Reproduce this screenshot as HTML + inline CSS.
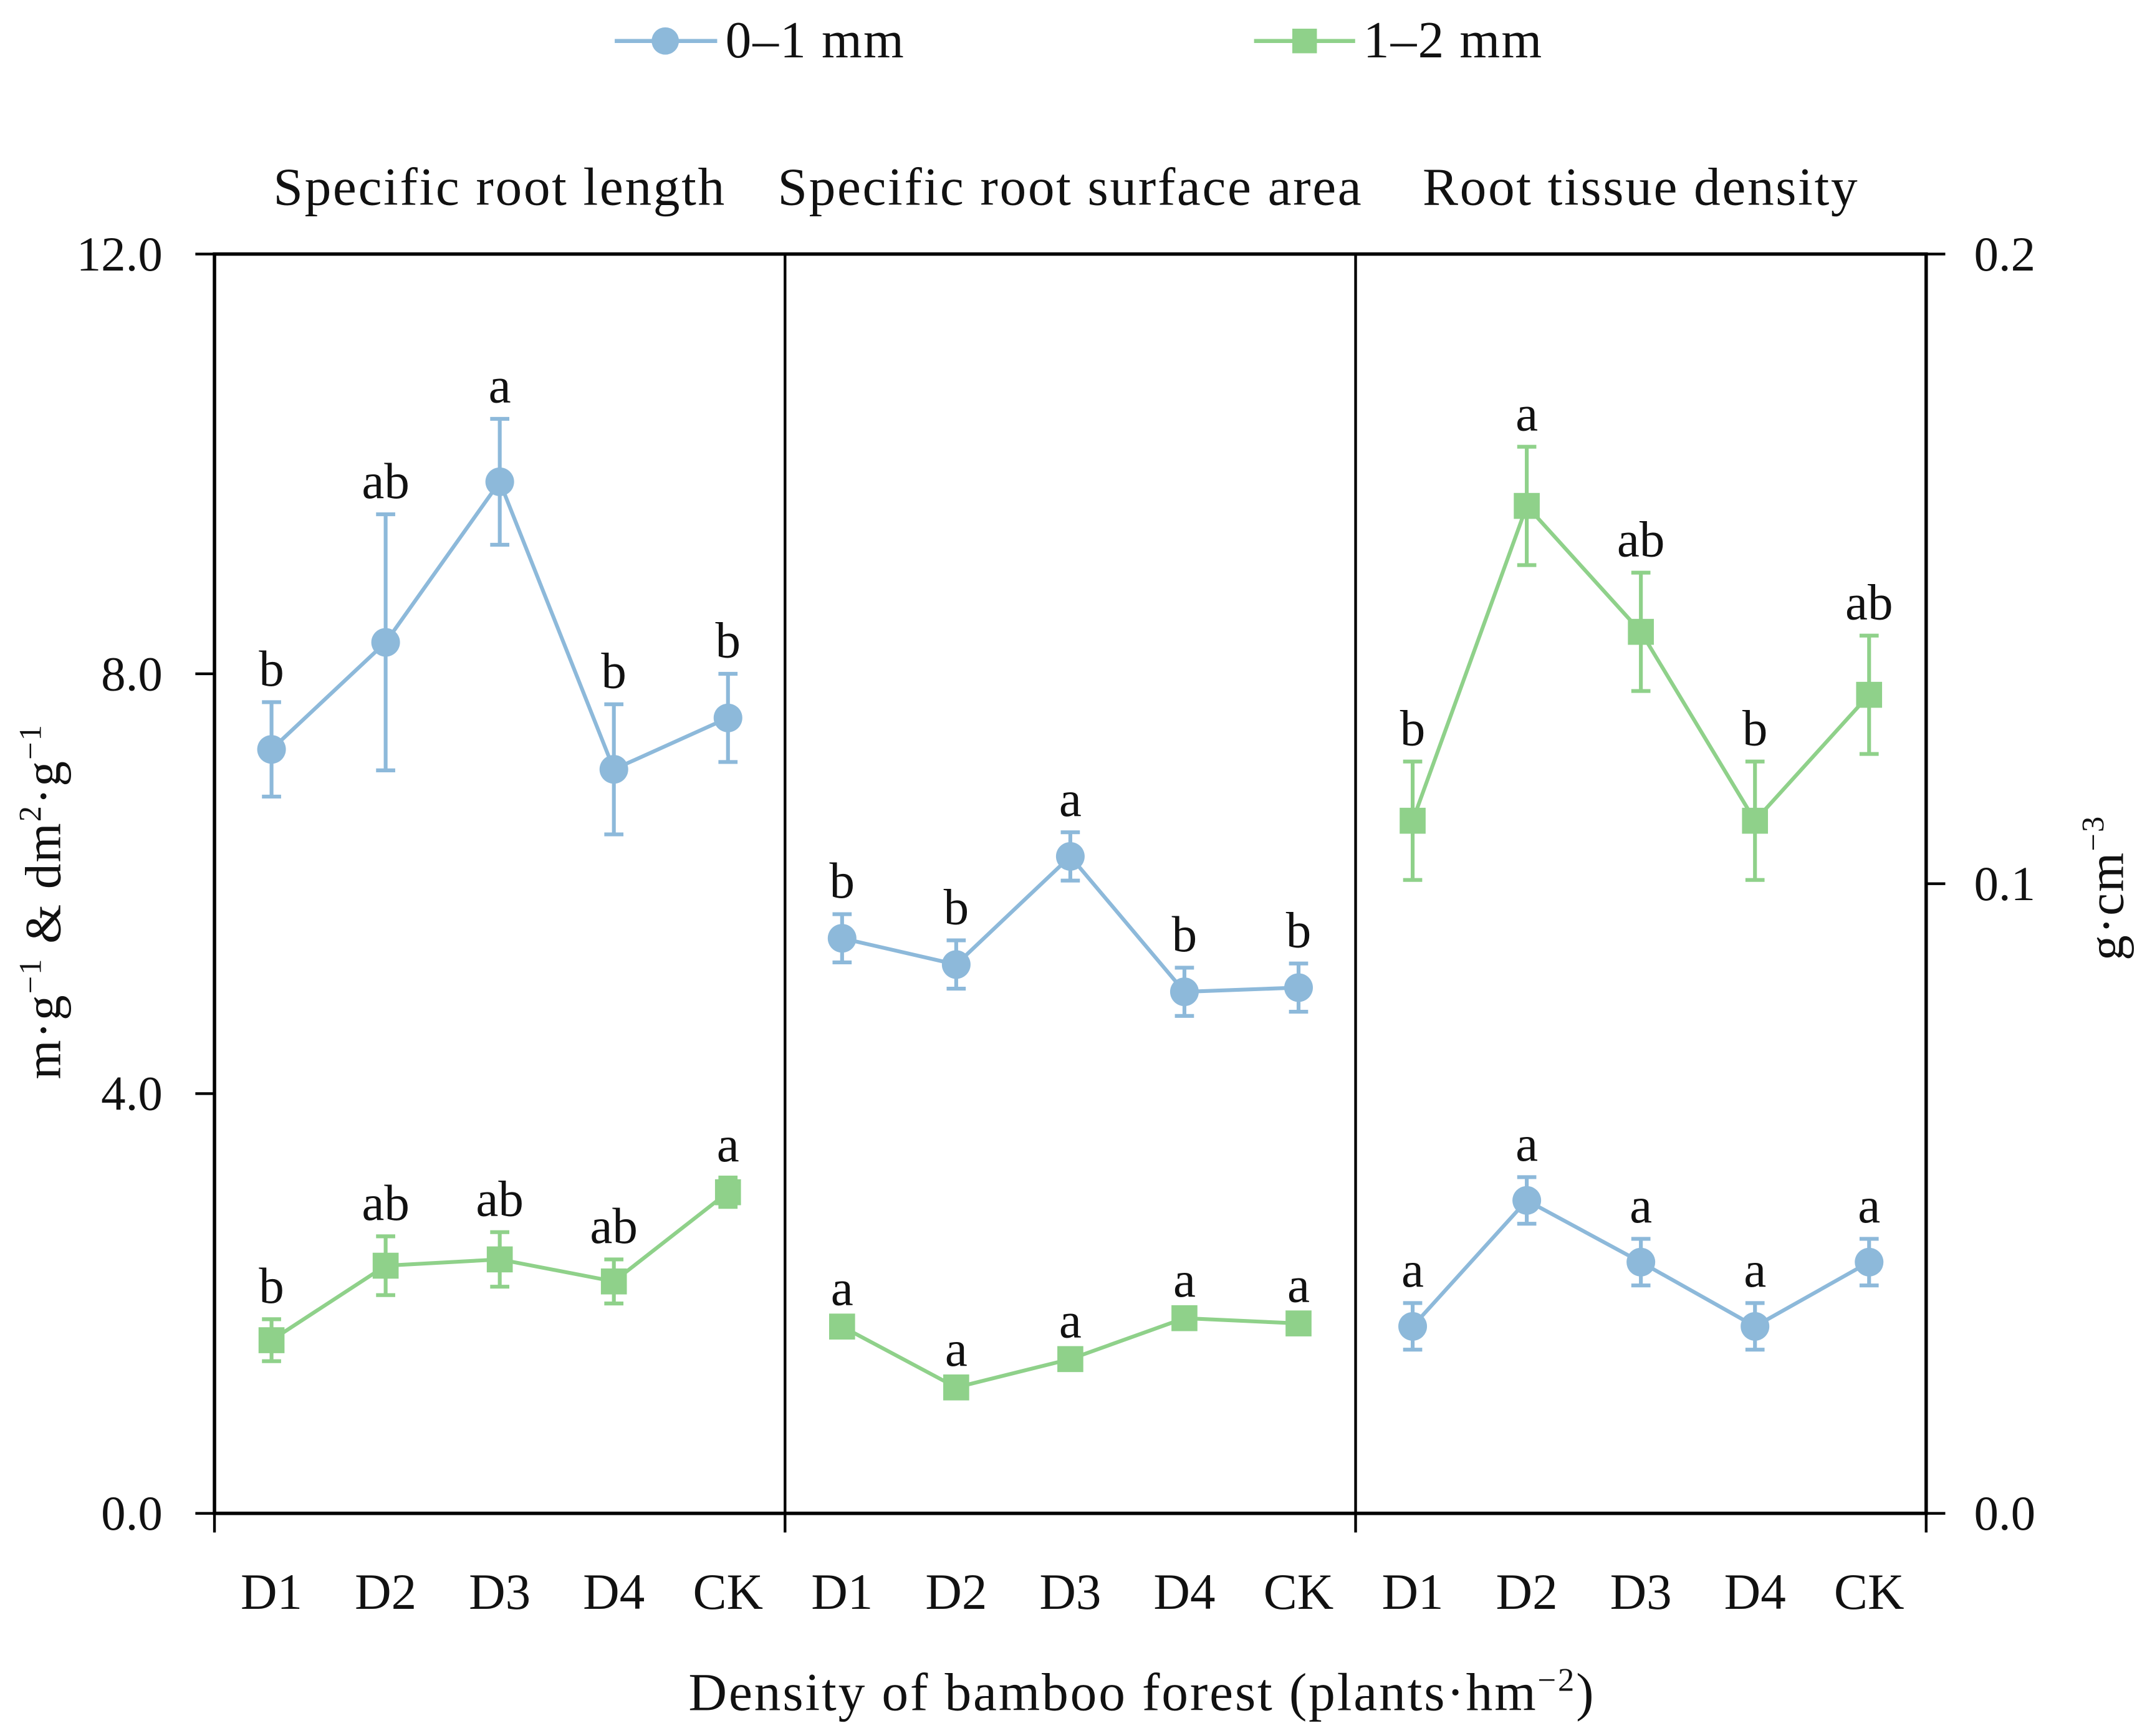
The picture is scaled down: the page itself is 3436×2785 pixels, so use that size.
<!DOCTYPE html>
<html><head><meta charset="utf-8"><style>
html,body{margin:0;padding:0;background:#fff}
svg{display:block}
text{font-family:"Liberation Serif",serif;fill:#111}
</style></head><body>
<svg id="chart" width="3436" height="2785" viewBox="0 0 1568 1271" preserveAspectRatio="none" xmlns="http://www.w3.org/2000/svg">
<g id="legend">
 <g>
  <line x1="450" y1="30" x2="525" y2="30" stroke="#8db9da" stroke-width="3"/>
  <circle cx="487" cy="30" r="10" fill="#8db9da"/>
  <text x="531" y="42" font-size="38" letter-spacing="1">0–1 mm</text>
 </g>
 <g>
  <line x1="918" y1="30" x2="992" y2="30" stroke="#8fd18a" stroke-width="3"/>
  <rect x="946" y="21" width="18" height="18" fill="#8fd18a"/>
  <text x="998" y="42" font-size="38" letter-spacing="1">1–2 mm</text>
 </g>
</g>
<g id="plot"></g>
</svg>
<script>
const categories=["D1","D2","D3","D4","CK"];
const panelTitles=["Specific root length","Specific root surface area","Root tissue density"];
const leftTicks=[0,4,8,12];
const leftTickLabels=["0.0","4.0","8.0","12.0"];
const rightTicks=[0,0.1,0.2];
const rightTickLabels=["0.0","0.1","0.2"];
const srlBlue=[7.28,8.30,9.83,7.09,7.58];
const srlBlueErr=[0.45,1.22,0.6,0.62,0.42];
const srlBlueLet=["b","ab","a","b","b"];
const srlGreen=[1.65,2.36,2.42,2.21,3.06];
const srlGreenErr=[0.2,0.28,0.26,0.21,0.14];
const srlGreenLet=["b","ab","ab","ab","a"];
const srsaBlue=[5.48,5.23,6.26,4.97,5.01];
const srsaBlueErr=[0.23,0.23,0.23,0.23,0.23];
const srsaBlueLet=["b","b","a","b","b"];
const srsaGreen=[1.78,1.20,1.47,1.86,1.81];
const srsaGreenErr=[0.05,0.05,0.05,0.05,0.05];
const srsaGreenLet=["a","a","a","a","a"];
const rtdBlue=[0.0297,0.0497,0.0399,0.0297,0.0399];
const rtdBlueErr=[0.0037,0.0037,0.0037,0.0037,0.0037];
const rtdBlueLet=["a","a","a","a","a"];
const rtdGreen=[0.110,0.160,0.140,0.110,0.130];
const rtdGreenErr=[0.0094,0.0094,0.0094,0.0094,0.0094];
const rtdGreenLet=["b","a","ab","b","ab"];

const NS="http://www.w3.org/2000/svg";
const L=157,R=1410,T=186,B=1108;
const PW=(R-L)/3;
const yL=v=>B-(v/12)*(B-T);
const yR=v=>B-(v/0.2)*(B-T);
const xC=(p,i)=>L+p*PW+(i+0.5)*PW/5;
const g=document.getElementById('plot');
function mk(tag,at,parent){const e=document.createElementNS(NS,tag);for(const k in at)e.setAttribute(k,at[k]);(parent||g).appendChild(e);return e;}
function txt(s,at,parent){const e=mk('text',at,parent);e.textContent=s;return e;}

const frame=mk('rect',{x:L,y:T,width:R-L,height:B-T,fill:'none',stroke:'#000','stroke-width':2.5});


for(let p=1;p<3;p++){const d=mk('line',{x1:L+p*PW,y1:T,x2:L+p*PW,y2:B,stroke:'#000','stroke-width':2});

}
for(let p=0;p<=3;p++){const t=mk('line',{x1:L+p*PW,y1:B,x2:L+p*PW,y2:B+14,stroke:'#000','stroke-width':2});

}
leftTicks.forEach((v,i)=>{const t=mk('line',{x1:L-14,y1:yL(v),x2:L,y2:yL(v),stroke:'#000','stroke-width':2});


const l=txt(leftTickLabels[i],{x:119,y:yL(v)+12,'font-size':36,'text-anchor':'end'});

});
rightTicks.forEach((v,i)=>{const t=mk('line',{x1:R,y1:yR(v),x2:R+14,y2:yR(v),stroke:'#000','stroke-width':2});


const l=txt(rightTickLabels[i],{x:1445,y:yR(v)+12,'font-size':36});

});
for(let p=0;p<3;p++){
 const tt=txt(panelTitles[p],{x:L+p*PW+PW/2,y:150,'font-size':39,'text-anchor':'middle','letter-spacing':1.2});
 
 
 categories.forEach((c,i)=>{const l=txt(c,{x:xC(p,i),y:1178,'font-size':37,'text-anchor':'middle'});
 
 });
}
const yt=txt('',{transform:'translate(44,660) rotate(-90)','font-size':37,'text-anchor':'middle','letter-spacing':1});
yt.innerHTML='m·g<tspan dy="-14" font-size="23">−1</tspan><tspan dy="14"> &amp; dm</tspan><tspan dy="-14" font-size="23">2</tspan><tspan dy="14">·g</tspan><tspan dy="-14" font-size="23">−1</tspan>';


const yt2=txt('',{transform:'translate(1554,650) rotate(-90)','font-size':37,'text-anchor':'middle','letter-spacing':1});
yt2.innerHTML='g·cm<tspan dy="-14" font-size="23">−3</tspan>';


const xt=txt('',{x:836,y:1252,'font-size':39,'text-anchor':'middle','letter-spacing':1.3});
xt.innerHTML='Density of bamboo forest (plants·hm<tspan dy="-14" font-size="24">−2</tspan><tspan dy="14">)</tspan>';



function series(p,vals,errs,lets,yf,color,shape,name){
 const sg=mk('g',{});
 
 
 mk('polyline',{points:vals.map((v,i)=>xC(p,i)+','+yf(v)).join(' '),fill:'none',stroke:color,'stroke-width':2.8},sg);
 vals.forEach((v,i)=>{
  const x=xC(p,i),y=yf(v),yt=yf(v+errs[i]),yb=yf(v-errs[i]);
  const eb=mk('path',{d:`M${x},${yt}V${yb}M${x-7},${yt}H${x+7}M${x-7},${yb}H${x+7}`,stroke:color,'stroke-width':2.8,fill:'none'},sg);
  
  
  let m;
  if(shape==='c')m=mk('circle',{cx:x,cy:y,r:10.5,fill:color},sg);
  else m=mk('rect',{x:x-9.5,y:y-9.5,width:19,height:19,fill:color},sg);
  
  
  const lt=txt(lets[i],{x:x,y:yt-12,'font-size':37,'text-anchor':'middle'},sg);
  
  
 });
}
const BL='#8db9da',GR='#8fd18a';
series(0,srlBlue,srlBlueErr,srlBlueLet,yL,BL,'c','srl-0-1mm');
series(0,srlGreen,srlGreenErr,srlGreenLet,yL,GR,'s','srl-1-2mm');
series(1,srsaBlue,srsaBlueErr,srsaBlueLet,yL,BL,'c','srsa-0-1mm');
series(1,srsaGreen,srsaGreenErr,srsaGreenLet,yL,GR,'s','srsa-1-2mm');
series(2,rtdBlue,rtdBlueErr,rtdBlueLet,yR,BL,'c','rtd-0-1mm');
series(2,rtdGreen,rtdGreenErr,rtdGreenLet,yR,GR,'s','rtd-1-2mm');
</script>
</body></html>
